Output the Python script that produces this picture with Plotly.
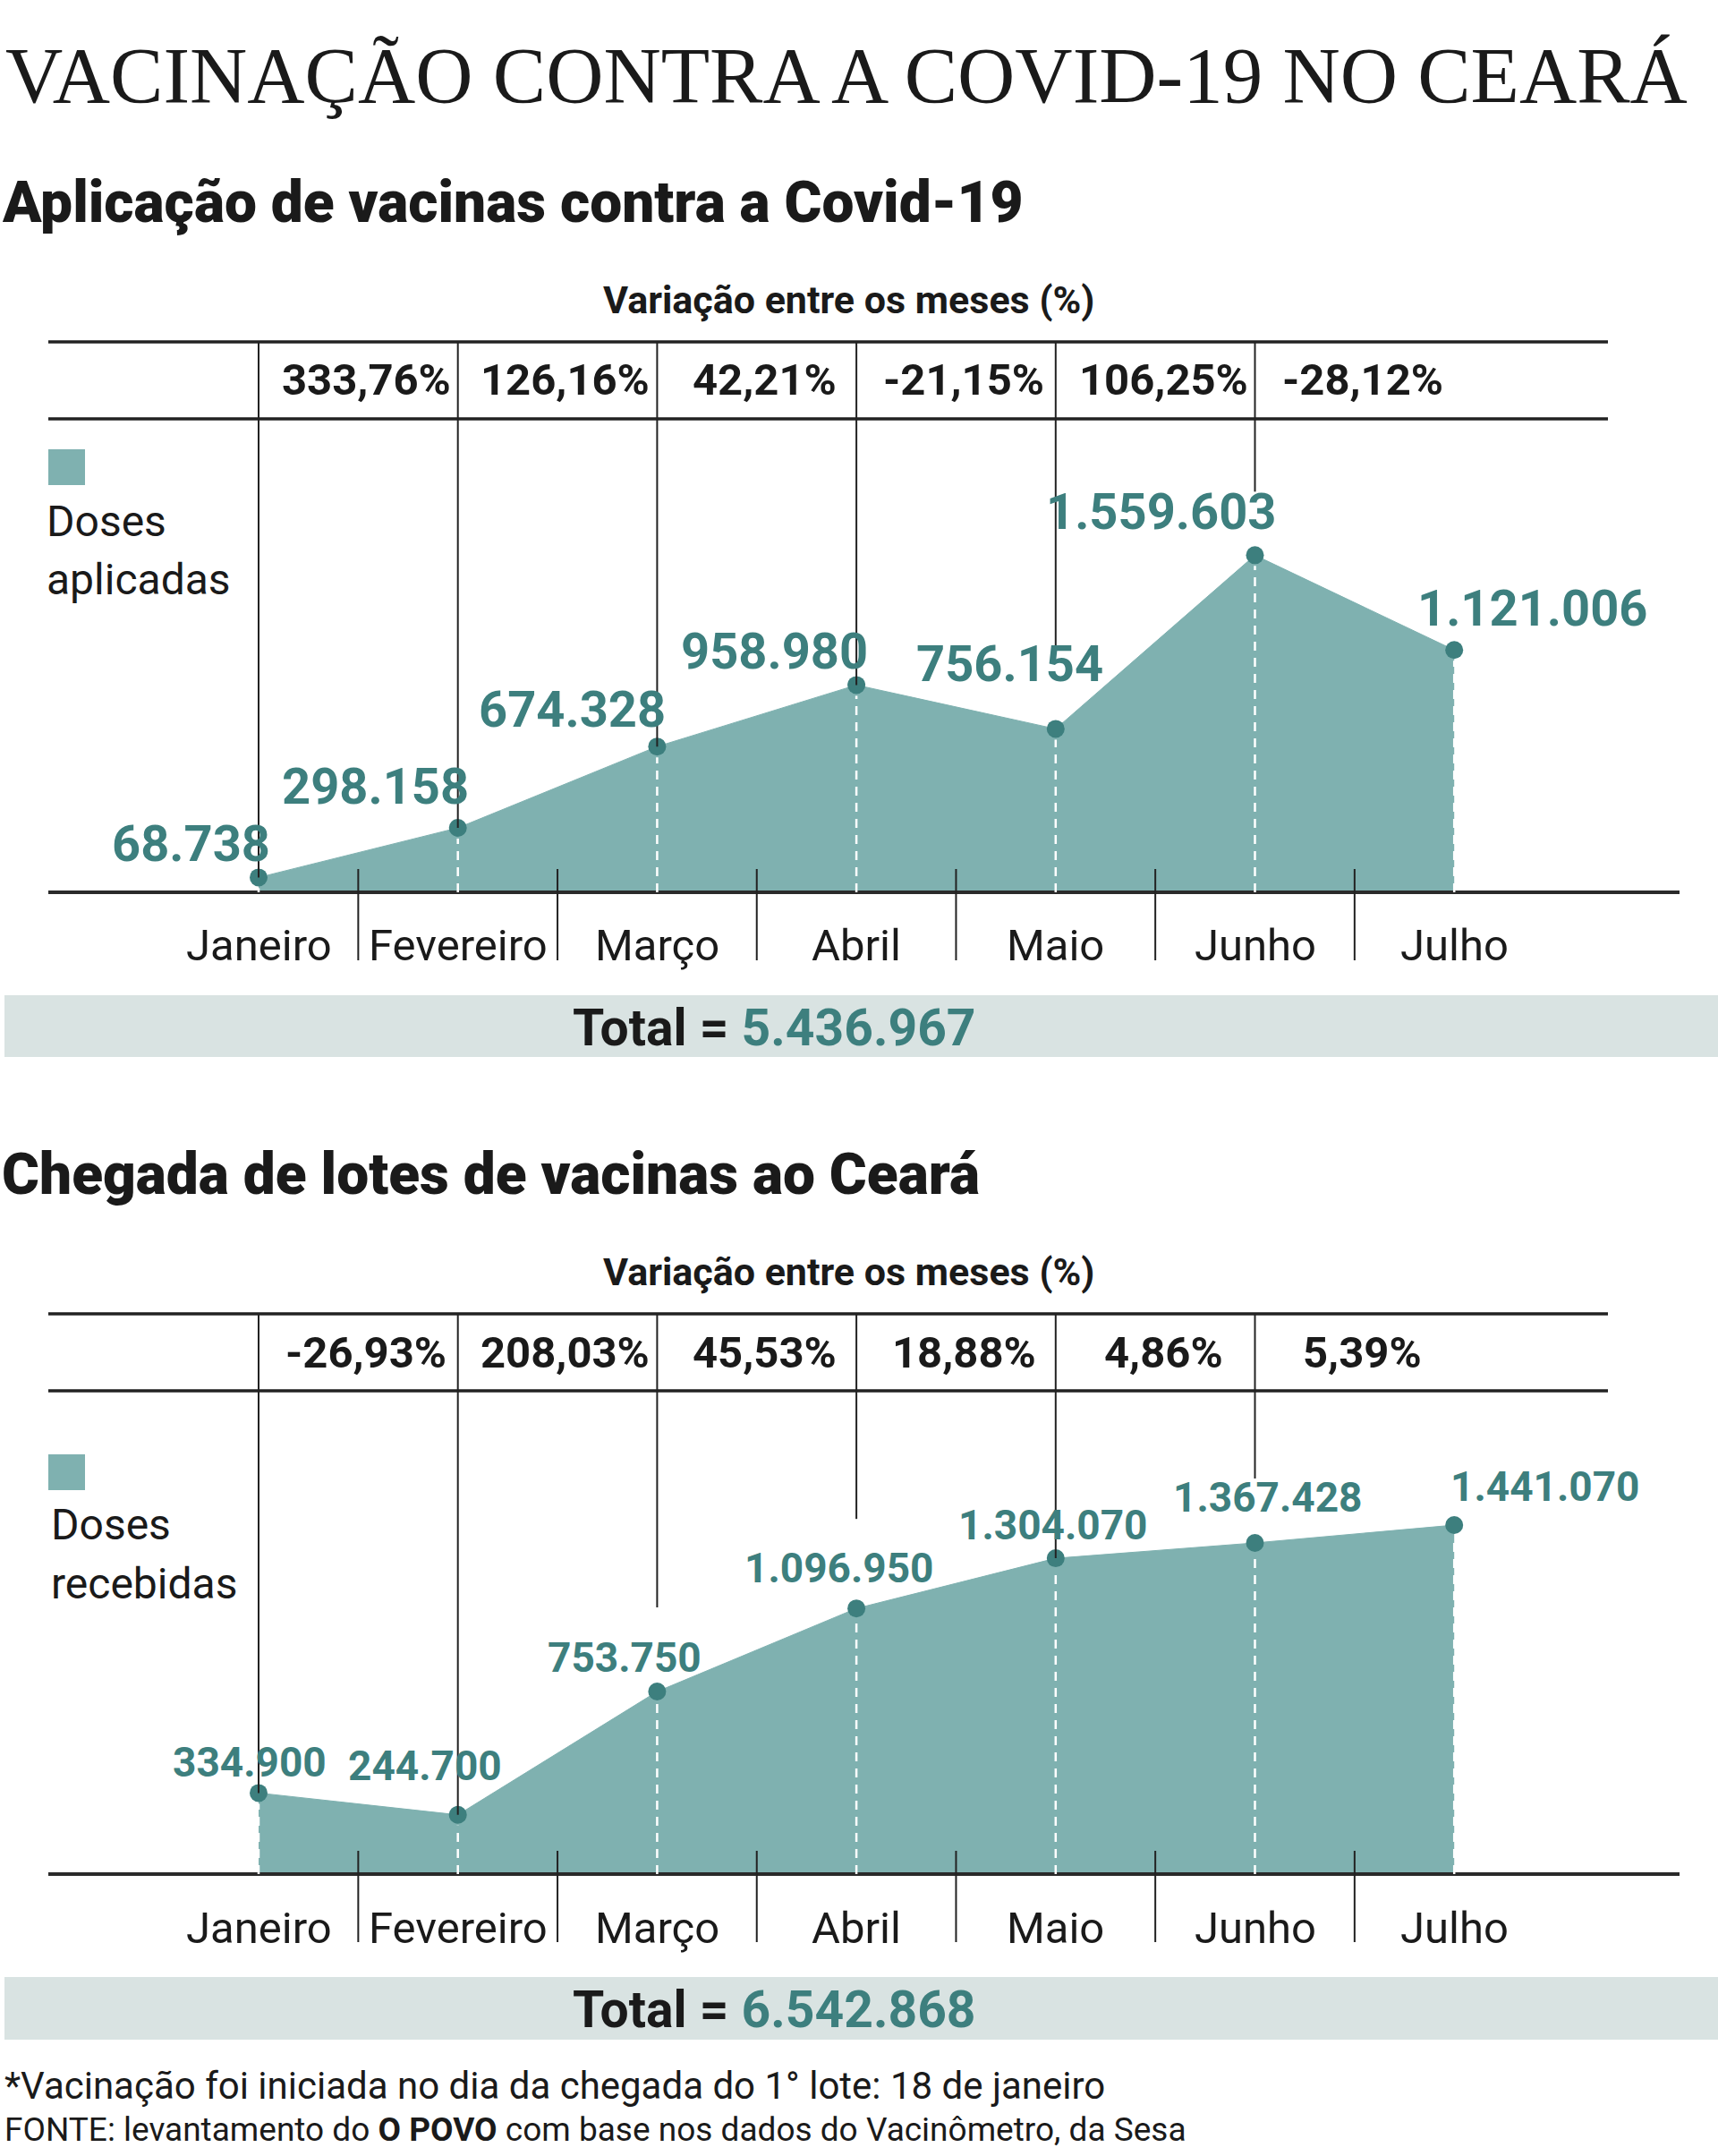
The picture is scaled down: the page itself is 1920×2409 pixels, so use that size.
import plotly.graph_objects as go

# ---------------- DATA ----------------
months = ["Janeiro", "Fevereiro", "Março", "Abril", "Maio", "Junho", "Julho"]

doses_aplicadas = [68738, 298158, 674328, 958980, 756154, 1559603, 1121006]
variacao_aplicadas = ["333,76%", "126,16%", "42,21%", "-21,15%", "106,25%", "-28,12%"]
total_aplicadas = 5436967

doses_recebidas = [334900, 244700, 753750, 1096950, 1304070, 1367428, 1441070]
variacao_recebidas = ["-26,93%", "208,03%", "45,53%", "18,88%", "4,86%", "5,39%"]
total_recebidas = 6542868

title_text = "VACINAÇÃO CONTRA A COVID-19 NO CEARÁ"
heading1 = "Aplicação de vacinas contra a Covid-19"
heading2 = "Chegada de lotes de vacinas ao Ceará"
variacao_title = "Variação entre os meses (%)"
legend1 = ["Doses", "aplicadas"]
legend2 = ["Doses", "recebidas"]
note1 = "*Vacinação foi iniciada no dia da chegada do 1° lote: 18 de janeiro"
note2 = "FONTE: levantamento do <b>O POVO</b> com base nos dados do Vacinômetro, da Sesa"

# ---------------- STYLE / LAYOUT ----------------
W, H = 1920, 2409
FILL = "#7fb1b0"
DARK = "#3d7f7e"
BAND = "#d9e3e2"
INK = "#1a1a1a"
SANS = "Roboto"
SERIF = "Liberation Serif"

X0_PX, STEP_PX = 289.0, 222.7


def xd(p):
    return (p - X0_PX) / STEP_PX


def fmt(v):
    return f"{v:,}".replace(",", ".")


def px(x):
    return x / W


def py(y):
    return 1 - y / H


charts = [
    dict(values=doses_aplicadas, var=variacao_aplicadas, total=total_aplicadas,
         legend=legend1, heading=heading1,
         axis_py=997, ppd=241.5e-6, table_top=382, table_bot=468,
         dom_top=360, dom_bot=1090, heading_py=227, var_py=335,
         legend_sq=(54, 502, 95, 542), legend_x=50, legend_py=(583, 648),
         band=(1112, 1181), total_py=1148,
         label_font=56,
         label_off=[(15, 37, "right"), (14, 46, "right"), (12, 41, "right"), (15, 37, "right"),
                    (55, 72, "right"), (25, 48, "right"), (-43, 46, "left")],
         line_gap=[0, 0, 0, 0, 90, 71]),
    dict(values=doses_recebidas, var=variacao_recebidas, total=total_recebidas,
         legend=legend2, heading=heading2,
         axis_py=2094, ppd=270.6e-6, table_top=1468, table_bot=1554,
         dom_top=1446, dom_bot=2190, heading_py=1312, var_py=1421,
         legend_sq=(54, 1625, 95, 1665), legend_x=55, legend_py=(1703, 1769),
         band=(2209, 2279), total_py=2245,
         label_font=46,
         label_off=[(-10, 34, "center"), (51, 55, "right"), (52, 38, "right"), (88, 45, "right"),
                    (-3, 37, "center"), (14, 51, "center"), (-6, 43, "left")],
         line_gap=[0, 0, 94, 100, 0, 72]),
]

fig = go.Figure()
shapes = []
annotations = []
layout_axes = {}

for k, c in enumerate(charts):
    n = k + 1
    xa = "x" if n == 1 else f"x{n}"
    ya = "y" if n == 1 else f"y{n}"
    s = c["ppd"]  # pixels per dose

    def yv(p, c=c):
        return (c["axis_py"] - p) / c["ppd"]

    xs = list(range(len(months)))
    vals = c["values"]

    # area
    fig.add_trace(go.Scatter(x=xs, y=vals, mode="lines", fill="tozeroy",
                             fillcolor=FILL, line=dict(color=FILL, width=1),
                             xaxis=xa, yaxis=ya, hoverinfo="skip", showlegend=False))
    # points
    fig.add_trace(go.Scatter(x=xs, y=vals, mode="markers",
                             marker=dict(color=DARK, size=20),
                             xaxis=xa, yaxis=ya, showlegend=False))

    # axis line
    shapes.append(dict(type="line", xref=xa, yref=ya, x0=xd(54), x1=xd(1877), y0=0, y1=0,
                       line=dict(color="#2a2a2a", width=4), layer="above"))
    # table lines
    for tp in (c["table_top"], c["table_bot"]):
        shapes.append(dict(type="line", xref=xa, yref=ya, x0=xd(54), x1=xd(1797),
                           y0=yv(tp), y1=yv(tp), line=dict(color="#222", width=3.5), layer="above"))
    # vertical table separators down towards the points
    for i in range(len(c["var"])):
        yend = vals[i] + c["line_gap"][i] / s
        shapes.append(dict(type="line", xref=xa, yref=ya, x0=i, x1=i,
                           y0=yv(c["table_top"]), y1=yend,
                           line=dict(color="#222", width=2), layer="above"))
    # white dashed drop lines
    for i, v in enumerate(vals):
        shapes.append(dict(type="line", xref=xa, yref=ya, x0=i, x1=i,
                           y0=0, y1=v - 12 / s,
                           line=dict(color="white", width=2.5, dash="10px,8px"), layer="above"))
    # separators below axis
    for i in range(len(months) - 1):
        shapes.append(dict(type="line", xref=xa, yref=ya, x0=i + 0.5, x1=i + 0.5,
                           y0=yv(c["axis_py"] - 26), y1=yv(c["axis_py"] + 76),
                           line=dict(color="#222", width=2), layer="above"))

    # month labels
    for i, m in enumerate(months):
        annotations.append(dict(x=i, y=0, xref=xa, yref=ya, text=m, showarrow=False,
                                yshift=-60, xanchor="center", yanchor="middle",
                                font=dict(family=SANS, size=49, color=INK)))
    # value labels
    for i, v in enumerate(vals):
        dx, dy, anc = c["label_off"][i]
        annotations.append(dict(x=i, y=v, xref=xa, yref=ya, text=fmt(v), showarrow=False,
                                xshift=dx, yshift=dy, xanchor=anc, yanchor="middle",
                                font=dict(family=SANS, size=c["label_font"], color=DARK, weight=700)))
    # variation percentages
    ymid = yv((c["table_top"] + c["table_bot"]) / 2)
    for i, t in enumerate(c["var"]):
        annotations.append(dict(x=i + 0.54, y=ymid, xref=xa, yref=ya, text=t, showarrow=False,
                                xanchor="center", yanchor="middle",
                                font=dict(family=SANS, size=49, color=INK, weight=700)))

    # headings and text in paper coords
    annotations.append(dict(x=px(0), y=py(c["heading_py"]), xref="paper", yref="paper",
                            text=c["heading"], showarrow=False, xanchor="left", yanchor="middle",
                            font=dict(family=SANS, size=64, color=INK, weight=900)))
    annotations.append(dict(x=px(948), y=py(c["var_py"]), xref="paper", yref="paper",
                            text=variacao_title, showarrow=False, xanchor="center", yanchor="middle",
                            font=dict(family=SANS, size=43, color=INK, weight=700)))
    lx0, ly0, lx1, ly1 = c["legend_sq"]
    shapes.append(dict(type="rect", xref="paper", yref="paper", x0=px(lx0), x1=px(lx1),
                       y0=py(ly1), y1=py(ly0), fillcolor=FILL, line=dict(width=0)))
    for t, p in zip(c["legend"], c["legend_py"]):
        annotations.append(dict(x=px(c["legend_x"]), y=py(p), xref="paper", yref="paper",
                                text=t, showarrow=False, xanchor="left", yanchor="middle",
                                font=dict(family=SANS, size=48, color=INK)))
    b0, b1 = c["band"]
    shapes.append(dict(type="rect", xref="paper", yref="paper", x0=px(5), x1=1,
                       y0=py(b1), y1=py(b0), fillcolor=BAND, line=dict(width=0), layer="below"))
    annotations.append(dict(x=px(865), y=py(c["total_py"]), xref="paper", yref="paper",
                            text=f"Total = <span style='color:{DARK}'>{fmt(c['total'])}</span>",
                            showarrow=False, xanchor="center", yanchor="middle",
                            font=dict(family=SANS, size=57, color=INK, weight=700)))

    rng_y = [yv(c["dom_bot"]), yv(c["dom_top"])]
    ax_common = dict(showgrid=False, zeroline=False, showticklabels=False, ticks="",
                     showline=False, fixedrange=True)
    layout_axes["xaxis" if n == 1 else f"xaxis{n}"] = dict(
        domain=[0, 1], range=[xd(0), xd(W)], anchor=ya, **ax_common)
    layout_axes["yaxis" if n == 1 else f"yaxis{n}"] = dict(
        domain=[py(c["dom_bot"]), py(c["dom_top"])], range=rng_y, anchor=xa, **ax_common)

# title and notes
annotations.append(dict(x=px(4), y=py(84), xref="paper", yref="paper", text=title_text,
                        showarrow=False, xanchor="left", yanchor="middle",
                        font=dict(family=SERIF, size=89, color=INK)))
annotations.append(dict(x=px(3), y=py(2330), xref="paper", yref="paper", text=note1,
                        showarrow=False, xanchor="left", yanchor="middle",
                        font=dict(family=SANS, size=42, color=INK)))
annotations.append(dict(x=px(3), y=py(2379), xref="paper", yref="paper", text=note2,
                        showarrow=False, xanchor="left", yanchor="middle",
                        font=dict(family=SANS, size=37, color=INK)))

fig.update_layout(width=W, height=H, margin=dict(l=0, r=0, t=0, b=0),
                  paper_bgcolor="white", plot_bgcolor="rgba(0,0,0,0)",
                  showlegend=False, shapes=shapes, annotations=annotations, **layout_axes)

fig.write_html("out.html", config={"displayModeBar": False, "staticPlot": True},
               post_script="document.body.style.margin='0';")
